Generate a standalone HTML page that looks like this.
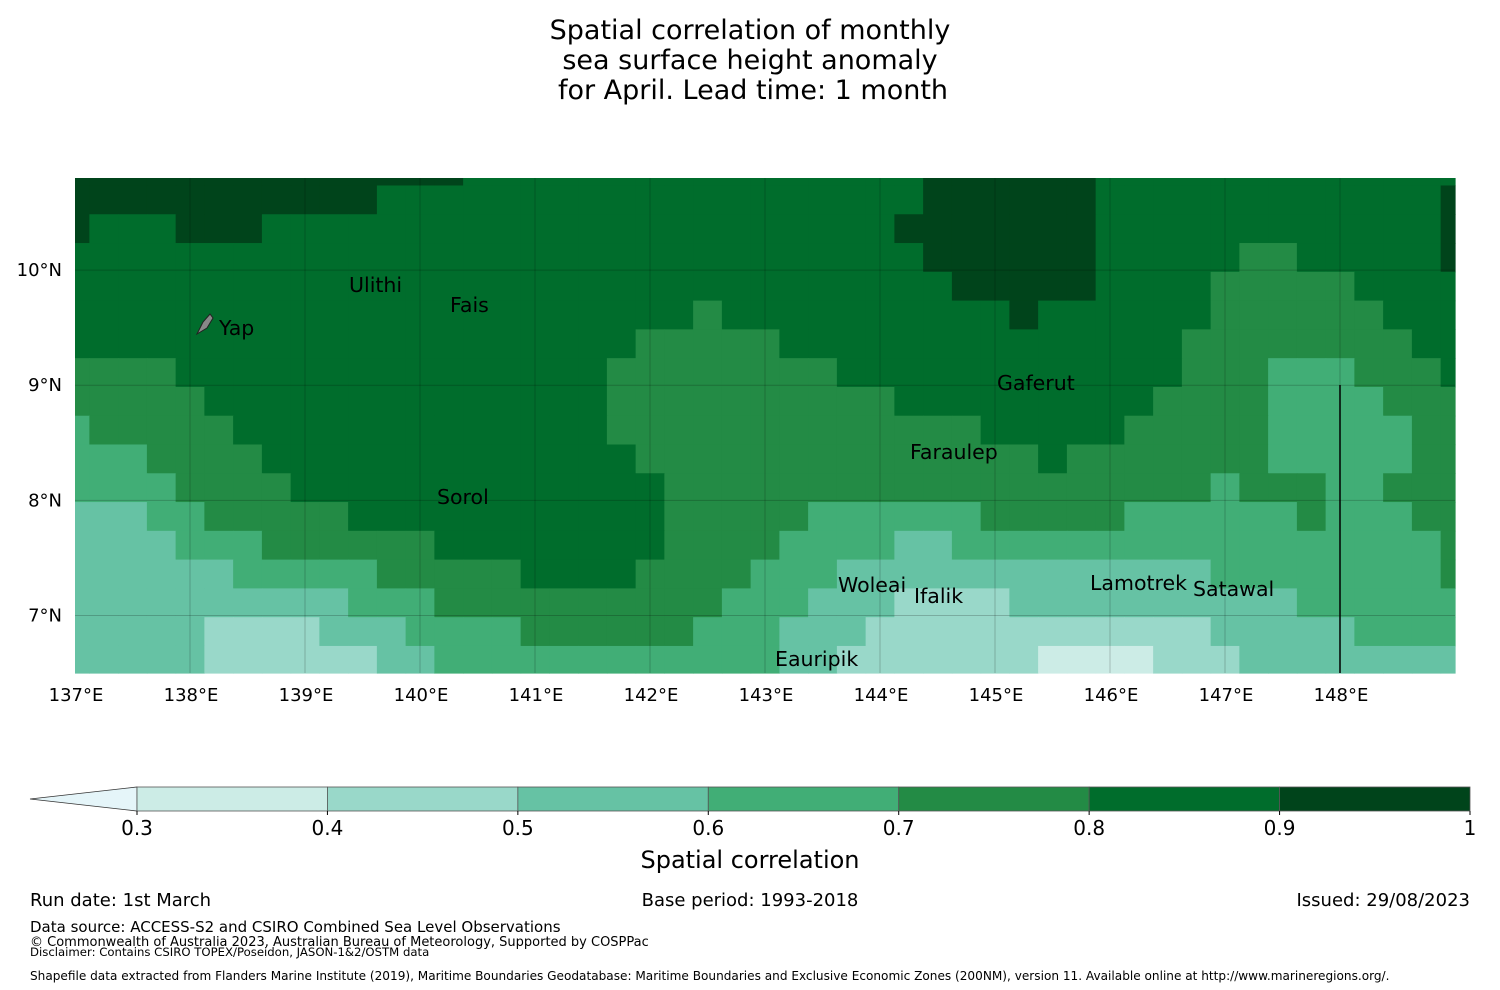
<!DOCTYPE html>
<html><head><meta charset="utf-8">
<style>
html,body{margin:0;padding:0;background:#fff;}
svg{display:block;font-family:"DejaVu Sans","Liberation Sans",sans-serif;}
</style></head>
<body>
<svg id="chart" width="1500" height="990" viewBox="0 0 1500 990" xmlns="http://www.w3.org/2000/svg">
<g font-size="27" text-anchor="middle" fill="#000">
<text x="750" y="39">Spatial correlation of monthly</text>
<text x="750" y="69">sea surface height anomaly</text>
<text x="753" y="99">for April. Lead time: 1 month</text>
</g>
<g id="cells"></g>
<g id="grid"></g>
<line x1="1340" y1="385" x2="1340" y2="673" stroke="#000" stroke-width="1.5"/>
<g id="ylabels" font-size="18" text-anchor="end"></g>
<g id="xlabels" font-size="18" text-anchor="middle"></g>
<g font-size="20.5" fill="#000">
<path d="M197,334 L203,322 L210,314 L213,318 L207,328 Z" fill="#888" stroke="#222" stroke-width="1"/>
<text x="219" y="335">Yap</text>
<text x="349" y="292">Ulithi</text>
<text x="450" y="312">Fais</text>
<text x="997" y="390">Gaferut</text>
<text x="910" y="459">Faraulep</text>
<text x="437" y="504">Sorol</text>
<text x="838" y="592">Woleai</text>
<text x="914" y="603">Ifalik</text>
<text x="1090" y="590">Lamotrek</text>
<text x="1193" y="596">Satawal</text>
<text x="775" y="666">Eauripik</text>
</g>
<g id="colorbar"></g>
<text x="750" y="868" font-size="24" text-anchor="middle">Spatial correlation</text>
<g fill="#000">
<text x="30" y="906" font-size="18">Run date: 1st March</text>
<text x="750" y="906" font-size="18" text-anchor="middle">Base period: 1993-2018</text>
<text x="1470" y="906" font-size="18" text-anchor="end">Issued: 29/08/2023</text>
<text x="30" y="932" font-size="15">Data source: ACCESS-S2 and CSIRO Combined Sea Level Observations</text>
<text x="30" y="946" font-size="13">© Commonwealth of Australia 2023, Australian Bureau of Meteorology, Supported by COSPPac</text>
<text x="30" y="956" font-size="11.7">Disclaimer: Contains CSIRO TOPEX/Poseidon, JASON-1&amp;2/OSTM data</text>
<text x="30" y="980" font-size="12.1">Shapefile data extracted from Flanders Marine Institute (2019), Maritime Boundaries Geodatabase: Maritime Boundaries and Exclusive Economic Zones (200NM), version 11. Available online at http://www.marineregions.org/.</text>
</g>
</svg>
<script>
// Grid: longitude centers 137..149 step 0.25 (49 cols); latitude rows top->bottom
const lonCenters = Array.from({length:49},(_, k)=>137+0.25*k);
const latTopEdges = [10.8,10.735,10.485,10.235,9.985,9.735,9.485,9.235,8.985,8.735,8.485,8.235,7.985,7.735,7.485,7.235,6.985,6.735];
// each digit d = correlation bin [d/10, d/10+0.1)
const corrRows = [
"9999999999999988888888888888889999998888888888888",
"9999999999988888888888888888889999998888888888889",
"9888999888888888888888888888899999998888888888889",
"8888888888888888888888888888889999998888877888889",
"8888888888888888888888888888888999998888777778888",
"8888888888888888888888788888888889888888777777888",
"8888888888888888888877777888888888888887777777788",
"7777888888888888888777777778888888888887776667778",
"7777788888888888888777777777788888888877776666777",
"6777778888888888888777777777777788888777776666677",
"6667777888888888888877777777777777877777776666677",
"6666777788888888888887777777777777777777677766777",
"5556677777888888888887777766666677777666666766677",
"5555666777777888888887777666655666666666666666667",
"5555556666677777888877776665555555555555666666667",
"5555555555666777777777766655544445555555555666666",
"5555544445556666777777666555444444444444555556666",
"5555544444455666666666666554444444333344455555555"];
const levelEdges = [0.3,0.4,0.5,0.6,0.7,0.8,0.9,1.0];
const levelColors = ["#ccece6","#99d8c9","#66c2a4","#41ae76","#238b45","#006d2c","#00441b"];
const lonTicks = [137,138,139,140,141,142,143,144,145,146,147,148];
const latTicks = [10,9,8,7];

const NS="http://www.w3.org/2000/svg";
const X0=75,X1=1455,LON0=137,LON1=149,Y0=178,Y1=673,LAT0=10.8,LAT1=6.5;
const xScale = lon => X0 + (lon-LON0)/(LON1-LON0)*(X1-X0);
const yScale = lat => Y0 + (LAT0-lat)/(LAT0-LAT1)*(Y1-Y0);
const colorFor = v => { for(let i=0;i<levelColors.length;i++){ if(v<levelEdges[i+1]) return levelColors[i]; } return levelColors[levelColors.length-1]; };
function mk(tag, attrs, parent){ const e=document.createElementNS(NS,tag); for(const k in attrs) e.setAttribute(k,attrs[k]); parent.appendChild(e); return e; }

const cellsG=document.getElementById('cells');
corrRows.forEach((row,r)=>{
  const top=yScale(latTopEdges[r]);
  const bot= r+1<latTopEdges.length ? yScale(latTopEdges[r+1]) : Y1;
  for(let k=0;k<lonCenters.length;k++){
    const v=parseInt(row[k])/10+0.05;
    const l=Math.max(X0,xScale(lonCenters[k]-0.125)), rr=Math.min(X1,xScale(lonCenters[k]+0.125));
    const c=mk('rect',{x:l.toFixed(2),y:top.toFixed(2),width:(rr-l+0.6).toFixed(2),height:(bot-top+0.6).toFixed(2),fill:colorFor(v)},cellsG);
    
    
  }
});

const gridG=document.getElementById('grid');
const xl=document.getElementById('xlabels'), yl=document.getElementById('ylabels');
lonTicks.forEach(lon=>{
  const x=xScale(lon);
  if(lon>LON0){ const g=mk('line',{x1:x,y1:Y0,x2:x,y2:Y1,stroke:'#000','stroke-opacity':0.2,'stroke-width':1},gridG);
    
     }
  const t=mk('text',{x:x+1,y:701},xl); t.textContent=lon+'°E';
  
  
});
latTicks.forEach(lat=>{
  const y=yScale(lat);
  const g=mk('line',{x1:X0,y1:y,x2:X1,y2:y,stroke:'#000','stroke-opacity':0.2,'stroke-width':1},gridG);
  
  
  const t=mk('text',{x:62,y:y+6},yl); t.textContent=lat+'°N';
  
  
});

// colorbar
const cb=document.getElementById('colorbar');
const CB0=137,CB1=1470,CBY=787,CBH=24;
const cbX = v => CB0 + (v-levelEdges[0])/(levelEdges[levelEdges.length-1]-levelEdges[0])*(CB1-CB0);
const tri=mk('polygon',{points:`30,${CBY+CBH/2} ${CB0},${CBY} ${CB0},${CBY+CBH}`,fill:'#e5f5f9',stroke:'#333','stroke-width':0.8},cb);


levelColors.forEach((col,i)=>{
  const a=cbX(levelEdges[i]), b=cbX(levelEdges[i+1]);
  const r=mk('rect',{x:a,y:CBY,width:b-a,height:CBH,fill:col,stroke:'#555','stroke-width':0.8},cb);
  
  
});
levelEdges.forEach(v=>{
  const x=cbX(v);
  mk('line',{x1:x,y1:CBY+CBH,x2:x,y2:CBY+CBH+4,stroke:'#000'},cb);
  const t=mk('text',{x:x,y:835,'font-size':20,'text-anchor':'middle'},cb);
  t.textContent = (v===1)?'1':v.toFixed(1);
  
  
});
</script>
</body></html>
